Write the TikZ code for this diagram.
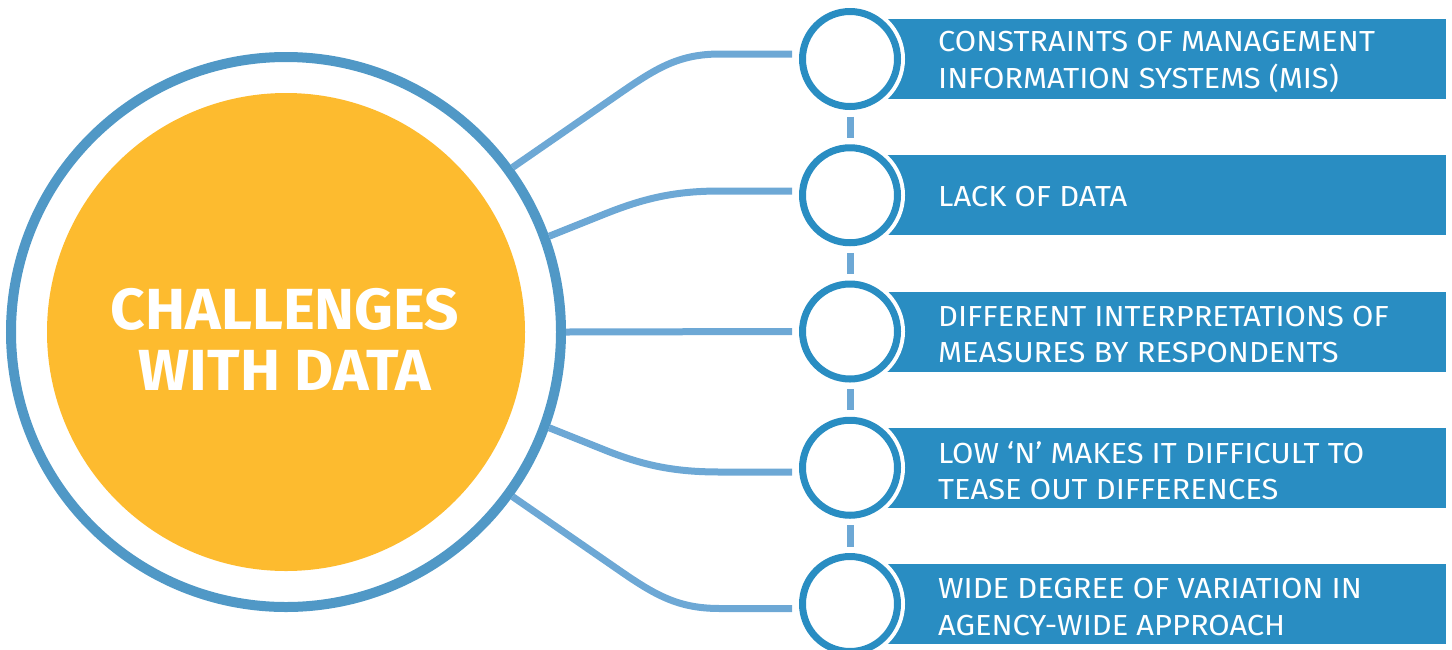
\documentclass[tikz,border=0pt]{standalone}
\usepackage{fontspec}
\setmainfont{Fira Sans}
\newfontfamily\itemfont{Fira Sans}[FakeStretch=1.065]
\newfontfamily\titlefont{Fira Sans}[FakeStretch=1.04]
\usetikzlibrary{calc}

\definecolor{hubring}{HTML}{5098C6}
\definecolor{hubfill}{HTML}{FDBB2F}
\definecolor{linkblue}{HTML}{6DA8D5}
\definecolor{itemblue}{HTML}{298DC2}

\tikzset{
  x=1pt, y=-1pt,
  hubring/.style={circle, draw=hubring, line width=10pt, minimum size=550pt, inner sep=0pt},
  hubdisc/.style={circle, fill=hubfill, minimum size=478pt, inner sep=0pt},
  titletext/.style={text=white, align=center, font=\titlefont\fontsize{58}{61}\selectfont\bfseries},
  itemring/.style={circle, draw=itemblue, fill=white, line width=7pt, minimum size=95pt, inner sep=0pt,
                   preaction={draw=white, line width=15pt}},
  banner/.style={fill=itemblue, minimum width=581pt, minimum height=80pt, inner sep=0pt, anchor=east},
  itemtext/.style={text=white, align=left, anchor=west, inner sep=0pt,
                   font=\itemfont\fontsize{29}{36.5}\selectfont},
  link/.style={draw=linkblue, line width=7pt},
  dashlink/.style={draw=linkblue, line width=7pt, shorten <=6.5pt, shorten >=6.5pt},
}

\begin{document}
\begin{tikzpicture}
\useasboundingbox (0,0) rectangle (1452,649);

% central hub
\node[hubring] (hub) at (286,332) {};
\node[hubdisc] (disc) at (286,332) {};
\node[titletext] (title) at (285,339) {CHALLENGES\\WITH DATA};

% banners with their labels
\foreach \i/\y in {1/59, 2/195.25, 3/331.5, 4/467.75, 5/604}{
  \node[banner] (b\i) at (1446,\y) {};
}
\node[itemtext] (t1) at (938,62) {CONSTRAINTS OF MANAGEMENT\\INFORMATION SYSTEMS (MIS)};
\node[itemtext] (t2) at (938,197) {LACK OF DATA};
\node[itemtext] (t3) at (938,334.5) {DIFFERENT INTERPRETATIONS OF\\MEASURES BY RESPONDENTS};
\node[itemtext] (t4) at (938,470.5) {LOW ‘N’ MAKES IT DIFFICULT TO\\TEASE OUT DIFFERENCES};
\node[itemtext] (t5) at (938,607) {WIDE DEGREE OF VARIATION IN\\AGENCY-WIDE APPROACH};

% connector ends beside the item rings
\coordinate (s1) at (792,54);
\coordinate (s2) at (792,191);
\coordinate (s3) at (792,331.5);
\coordinate (s4) at (792,472);
\coordinate (s5) at (792,608.5);

% links from the hub
\draw[link] (hub.36) -- ++(110,-76) .. controls +(35,-24) and +(-40,0) .. ($(s1)+(-72,0)$) -- (s1);
\draw[link] (hub.20) -- ++(55,-22) .. controls +(40,-16) and +(-45,0) .. ($(s2)+(-72,0)$) -- (s2);
\draw[link] (hub.0) -- (s3);
\draw[link] (hub.-20) -- ++(55,22) .. controls +(40,16) and +(-45,0) .. ($(s4)+(-72,0)$) -- (s4);
\draw[link] (hub.-36) -- ++(110,76) .. controls +(35,24) and +(-40,0) .. ($(s5)+(-72,0)$) -- (s5);

% item rings
\foreach \i/\y in {1/59, 2/195.25, 3/331.5, 4/467.75, 5/604}{
  \node[itemring] (c\i) at (850,\y) {};
}

% dashed spine between the rings
\draw[dashlink] (c1.south) -- (c2.north);
\draw[dashlink] (c2.south) -- (c3.north);
\draw[dashlink] (c3.south) -- (c4.north);
\draw[dashlink] (c4.south) -- (c5.north);
\end{tikzpicture}
\end{document}
